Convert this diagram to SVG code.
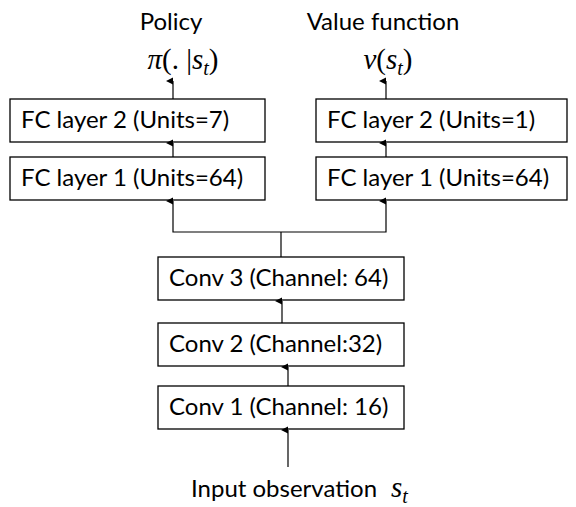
<svg xmlns="http://www.w3.org/2000/svg" width="576" height="507" viewBox="0 0 576 507">
<defs>
<marker id="ah" markerWidth="8" markerHeight="8" refX="4" refY="7" orient="auto-start-reverse" markerUnits="userSpaceOnUse" viewBox="0 0 8 8">
<path d="M0.5,7 L4,0 L7.5,7 Z" fill="#000"/>
</marker>
<style>
.box{fill:#fff;stroke:#000;stroke-width:1.3}
.lbl{font-family:Lato,"Liberation Sans",sans-serif;font-size:24px;fill:#000}
.math{font-family:"Liberation Serif",serif;font-size:29px;fill:#000}
.it{font-style:italic}
.sub{font-style:italic;font-size:20px}
.ln{stroke:#000;stroke-width:1.2;fill:none}
</style>
</defs>
<rect width="576" height="507" fill="#fff"/>
<g id="policy-label"><text class="lbl" x="171" y="30" text-anchor="middle">Policy</text>
<text class="math" x="183" y="69" text-anchor="middle"><tspan class="it">π</tspan>(. |<tspan class="it">s</tspan><tspan class="sub" dy="6">t</tspan><tspan dy="-6">)</tspan></text></g>
<g id="value-label"><text class="lbl" x="383" y="30" text-anchor="middle">Value function</text>
<text class="math" x="388" y="69" text-anchor="middle"><tspan class="it">v</tspan>(<tspan class="it">s</tspan><tspan class="sub" dy="6">t</tspan><tspan dy="-6">)</tspan></text></g>
<g id="fc2-left"><rect class="box" x="10" y="99" width="255" height="43"/><text class="lbl" x="21" y="128">FC layer 2 (Units=7)</text></g>
<g id="fc1-left"><rect class="box" x="10" y="157" width="255" height="43"/><text class="lbl" x="21" y="186">FC layer 1 (Units=64)</text></g>
<g id="fc2-right"><rect class="box" x="316" y="99" width="251" height="43"/><text class="lbl" x="327" y="128">FC layer 2 (Units=1)</text></g>
<g id="fc1-right"><rect class="box" x="316" y="157" width="251" height="43"/><text class="lbl" x="327" y="186">FC layer 1 (Units=64)</text></g>
<g id="conv3"><rect class="box" x="158" y="257" width="246" height="43"/><text class="lbl" x="169" y="286">Conv 3 (Channel: 64)</text></g>
<g id="conv2"><rect class="box" x="158" y="323" width="246" height="43"/><text class="lbl" x="169" y="352">Conv 2 (Channel:32)</text></g>
<g id="conv1"><rect class="box" x="158" y="386" width="246" height="43"/><text class="lbl" x="169" y="415">Conv 1 (Channel: 16)</text></g>
<g id="input-label"><text class="lbl" x="191" y="497">Input observation </text><text class="math" x="391" y="497"><tspan class="it">s</tspan><tspan class="sub" dy="6">t</tspan></text></g>
<g id="connectors">
<line class="ln" x1="173" y1="99" x2="173" y2="81" marker-end="url(#ah)"/>
<line class="ln" x1="386" y1="99" x2="386" y2="81" marker-end="url(#ah)"/>
<line class="ln" x1="173" y1="157" x2="173" y2="143" marker-end="url(#ah)"/>
<line class="ln" x1="386" y1="157" x2="386" y2="143" marker-end="url(#ah)"/>
<polyline class="ln" points="173,201 173,232 386,232 386,201" marker-start="url(#ah)" marker-end="url(#ah)"/>
<line class="ln" x1="281" y1="232" x2="281" y2="257"/>
<line class="ln" x1="282" y1="323" x2="282" y2="301" marker-end="url(#ah)"/>
<line class="ln" x1="288" y1="386" x2="288" y2="367" marker-end="url(#ah)"/>
<line class="ln" x1="288" y1="467" x2="288" y2="430" marker-end="url(#ah)"/>
</g>
</svg>
